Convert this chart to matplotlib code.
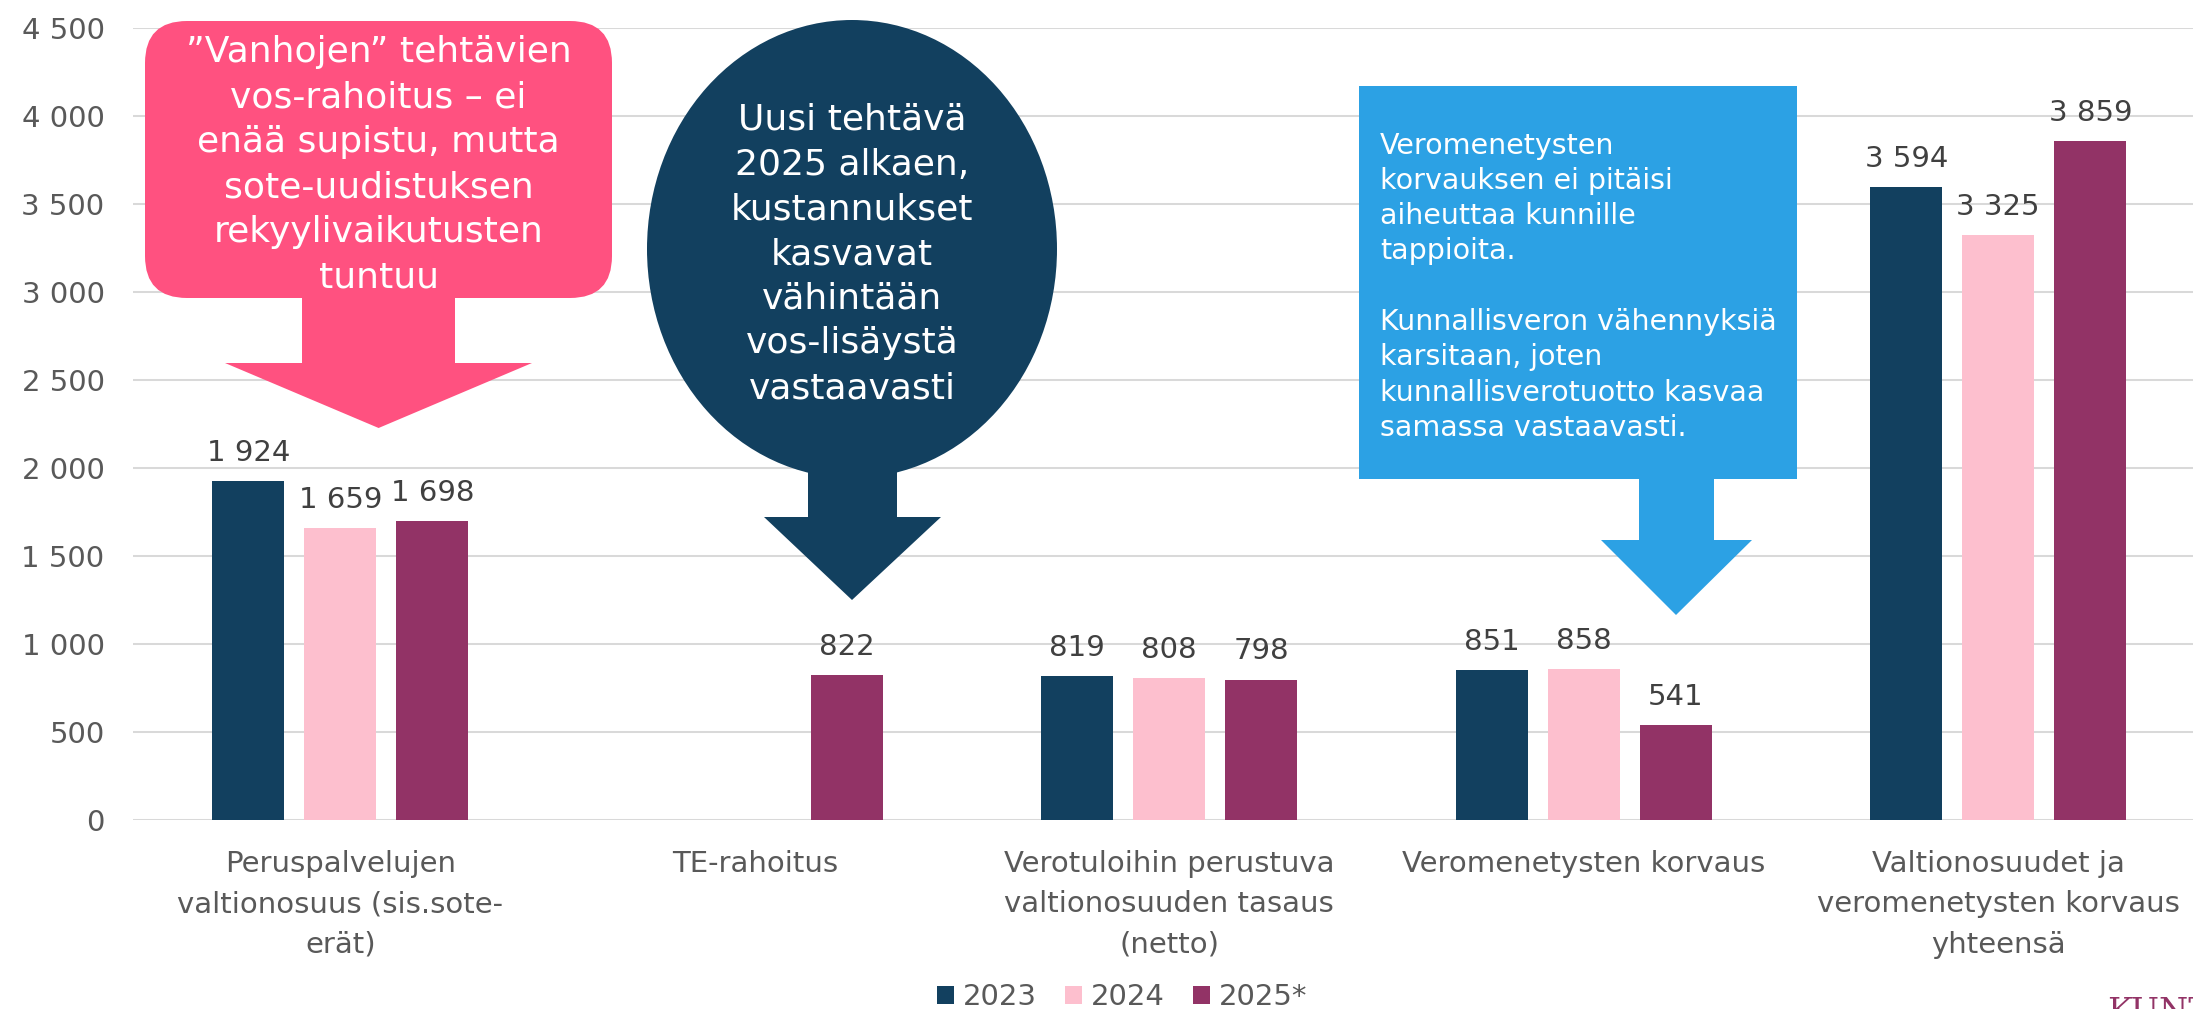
import numpy as np
import matplotlib
matplotlib.use("Agg")
import matplotlib.pyplot as plt
from matplotlib.patches import FancyBboxPatch, Polygon, Ellipse, Rectangle
from matplotlib.ticker import FuncFormatter, MultipleLocator

# ---------------- data ----------------
categories = [
    "Peruspalvelujen\nvaltionosuus (sis.sote-\nerät)",
    "TE-rahoitus",
    "Verotuloihin perustuva\nvaltionosuuden tasaus\n(netto)",
    "Veromenetysten korvaus",
    "Valtionosuudet ja\nveromenetysten korvaus\nyhteensä",
]
series_names = ["2023", "2024", "2025*"]
values_2023 = [1924, np.nan, 819, 851, 3594]
values_2024 = [1659, np.nan, 808, 858, 3325]
values_2025 = [1698, 822, 798, 541, 3859]
series_values = [values_2023, values_2024, values_2025]
series_colors = ["#12405F", "#FDBFCE", "#923366"]

callout_pink = ["\u201dVanhojen\u201d tehtävien", "vos-rahoitus \u2013 ei", "enää supistu, mutta",
                "sote-uudistuksen", "rekyylivaikutusten", "tuntuu"]
callout_oval = ["Uusi tehtävä", "2025 alkaen,", "kustannukset", "kasvavat",
                "vähintään", "vos-lisäystä", "vastaavasti"]
callout_box = ["Veromenetysten", "korvauksen ei pitäisi", "aiheuttaa kunnille", "tappioita.",
               "", "Kunnallisveron vähennyksiä", "karsitaan, joten",
               "kunnallisverotuotto kasvaa", "samassa vastaavasti."]

# ---------------- layout ----------------
W, H = 2193, 1009
plt.rcParams["font.family"] = ["DejaVu Sans"]
fig = plt.figure(figsize=(W / 100, H / 100), dpi=100)

ax_left, ax_right, y0_px, ytop_px = 133, 133 + 5 * 414.5, 820, 28
ax = fig.add_axes([ax_left / W, 1 - y0_px / H, (ax_right - ax_left) / W, (y0_px - ytop_px) / H])

x = np.arange(len(categories))
offsets = [-0.222, 0.0, 0.222]
bw = 0.174
fmt = lambda v: f"{int(round(v)):,}".replace(",", " ")

handles = []
for vals, off, col, name in zip(series_values, offsets, series_colors, series_names):
    v = np.array(vals, dtype=float)
    mask = ~np.isnan(v)
    bars = ax.bar(x[mask] + off, v[mask], width=bw, color=col, label=name, zorder=3)
    handles.append(bars.patches[0])
    for xi, vi in zip(x[mask] + off, v[mask]):
        ax.annotate(fmt(vi), (xi, vi), xytext=(0, 14.5), textcoords="offset points",
                    ha="center", va="baseline", fontsize=21, color="#404040", zorder=4)

ax.set_xlim(-0.5, 4.5)
ax.set_ylim(0, 4500)
ax.yaxis.set_major_locator(MultipleLocator(500))
ax.yaxis.set_major_formatter(FuncFormatter(lambda v, p: fmt(v)))
ax.set_xticks(x)
ax.set_xticklabels(categories, fontsize=21, color="#595959", linespacing=1.56)
ax.tick_params(axis="x", length=0, pad=21.5)
ax.tick_params(axis="y", length=0, pad=20.5, labelsize=21, labelcolor="#595959")
for s in ax.spines.values():
    s.set_visible(False)
ax.set_axisbelow(True)
ax.yaxis.grid(True, color="#D9D9D9", lw=1.45)
ax.patch.set_visible(False)

leg = fig.legend(handles=handles, labels=series_names, loc="center",
                 bbox_to_anchor=(1122 / W, 1 - 997 / H),
                 ncol=3, frameon=False, fontsize=21, handlelength=0.58, handleheight=0.58,
                 handletextpad=0.31, columnspacing=0.96, borderpad=0, borderaxespad=0)
for t in leg.get_texts():
    t.set_color("#595959")

# ---------------- overlay (pixel coordinates) ----------------
ov = fig.add_axes([0, 0, 1, 1])
ov.set_xlim(0, W)
ov.set_ylim(H, 0)
ov.axis("off")
ov.patch.set_visible(False)

# pink rounded box with arrow
pink = "#FF5180"
ov.add_patch(FancyBboxPatch((145, 21), 612 - 145, 298 - 21,
                            boxstyle="round,pad=0,rounding_size=42", fc=pink, ec="none"))
ov.add_patch(Polygon([(302, 290), (455, 290), (455, 363), (532, 363), (378.6, 428),
                      (225, 363), (302, 363)], closed=True, fc=pink, ec="none"))
for i, line in enumerate(callout_pink):
    ov.text(378.5, 62 + 45 * i, line, ha="center", va="baseline", fontsize=26, color="white")

# dark oval with arrow
navy = "#12405F"
ov.add_patch(Ellipse((852, 249), 410, 458, fc=navy, ec="none"))
ov.add_patch(Polygon([(808, 460), (897, 460), (897, 517), (941, 517), (852, 600),
                      (764, 517), (808, 517)], closed=True, fc=navy, ec="none"))
for i, line in enumerate(callout_oval):
    ov.text(852, 130 + 44.7 * i, line, ha="center", va="baseline", fontsize=26, color="white")

# blue box with arrow
blue = "#2CA1E4"
ov.add_patch(Rectangle((1359, 86), 1797 - 1359, 479 - 86, fc=blue, ec="none"))
ov.add_patch(Polygon([(1639, 470), (1714, 470), (1714, 540), (1752, 540), (1676, 615),
                      (1601, 540), (1639, 540)], closed=True, fc=blue, ec="none"))
for i, line in enumerate(callout_box):
    if line:
        ov.text(1380, 153.5 + 35.3 * i, line, ha="left", va="baseline", fontsize=20.5, color="white")

# logo fragment at bottom right (cut off by the edge, as in the reference)
fig.text(2107 / W, 1 - 997 / H, "KUNTALIITTO", ha="left", va="top", fontsize=24,
         family="DejaVu Serif", color="#923366")

fig.savefig("out.png", dpi=100)
